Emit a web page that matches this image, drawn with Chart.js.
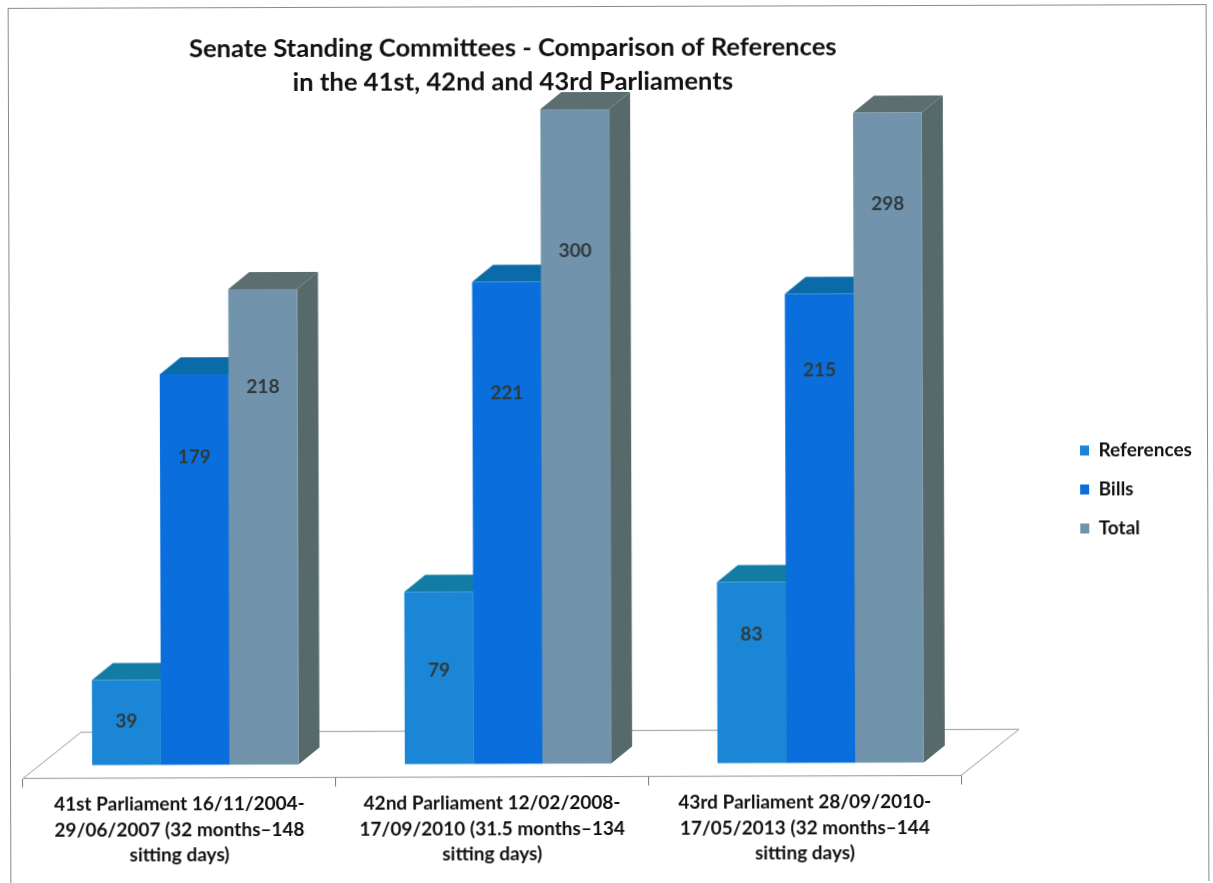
<!DOCTYPE html>
<html><head><meta charset="utf-8">
<style>html,body{margin:0;padding:0;background:#fff;overflow:hidden}
#wrap{width:1213px;height:883px;transform:rotate(-0.18deg)}canvas{display:block}</style>
<script src="https://cdn.jsdelivr.net/npm/chart.js@4"></script></head>
<body><div id="wrap"><canvas id="c" width="1213" height="883"></canvas></div>
<script>
const categories = [
  ["41st Parliament 16/11/2004-","29/06/2007 (32 months–148","sitting days)"],
  ["42nd Parliament 12/02/2008-","17/09/2010 (31.5 months–134","sitting days)"],
  ["43rd Parliament 28/09/2010-","17/05/2013 (32 months–144","sitting days)"]
];
const references = [39, 79, 83];
const bills = [179, 221, 215];
const total = [218, 300, 298];
const titleLines = ["Senate Standing Committees - Comparison of References","in the 41st, 42nd and 43rd Parliaments"];
// height (in axis units) at which each data label sits in the original
const referencesLabelAt = [20, 43, 59];
const billsLabelAt = [141, 170, 180];
const totalLabelAt = [173, 235, 256];

const FONT = 'Lato, Carlito, sans-serif';
const SHIFT_X = 16, DEPTH_X = 21, DEPTH_Y = 17, FLOOR_X = 58, FLOOR_Y = 46;
const faces = [
  {top:'#137CA5', side:'#10688C'},
  {top:'#0B6BA8', side:'#0A5A94'},
  {top:'#5C6E70', side:'#56696B'}
];
const labelAt = [referencesLabelAt, billsLabelAt, totalLabelAt];

function poly(ctx, pts, fill, stroke){
  ctx.beginPath(); pts.forEach((p,i)=> i?ctx.lineTo(p[0],p[1]):ctx.moveTo(p[0],p[1])); ctx.closePath();
  if(fill){ctx.fillStyle=fill;ctx.fill();}
  if(stroke){ctx.strokeStyle=stroke;ctx.lineWidth=1;ctx.stroke();}
}

const bars3d = {
  id:'bars3d',
  afterLayout(chart){
    const t = chart.titleBlock, l = chart.legend;
    const dx = 514 - (t.left + t.right)/2;
    t.left += dx; t.right += dx;
    const w = l.width;
    l.left = 1060; l.right = l.left + w;
    const dy = 491 - (l.top + l.bottom)/2;
    l.top += dy; l.bottom += dy;
  },
  beforeDraw(chart){
    const c = chart.ctx;
    c.save(); c.fillStyle='#fff'; c.fillRect(0,0,chart.width,chart.height);
    c.strokeStyle='#8a8a8a'; c.lineWidth=1; c.strokeRect(9.5,6.5,1198,890);
    c.restore();
  },
  beforeDatasetsDraw(chart){
    const c = chart.ctx, a = chart.chartArea;
    c.save();
    poly(c,[[a.left,a.bottom],[a.left+FLOOR_X,a.bottom-FLOOR_Y],[a.right+FLOOR_X,a.bottom-FLOOR_Y],[a.right,a.bottom]],'#fff','#9a9a9a');
    c.translate(SHIFT_X,0);
    chart.data.datasets.forEach((ds,i)=>{
      chart.getDatasetMeta(i).data.forEach(b=>{
        const l=b.x-b.width/2,r=b.x+b.width/2,t=b.y,bt=b.base;
        poly(c,[[r,t],[r+DEPTH_X,t-DEPTH_Y],[r+DEPTH_X,bt-DEPTH_Y],[r,bt]],faces[i].side);
        poly(c,[[l,t],[l+DEPTH_X,t-DEPTH_Y],[r+DEPTH_X,t-DEPTH_Y],[r,t]],faces[i].top);
      });
    });
    c.restore();
  },
  beforeDatasetDraw(chart){ chart.ctx.save(); chart.ctx.translate(SHIFT_X,0); },
  afterDatasetDraw(chart){ chart.ctx.restore(); },
  afterDatasetsDraw(chart){
    const c = chart.ctx, y = chart.scales.y;
    c.save(); c.translate(SHIFT_X,0);
    c.font = 'bold 19px '+FONT; c.fillStyle='#2f3a3c'; c.textAlign='center'; c.textBaseline='middle';
    chart.data.datasets.forEach((ds,i)=>{
      chart.getDatasetMeta(i).data.forEach((b,j)=>{
        c.fillText(String(ds.data[j]), b.x, y.getPixelForValue(labelAt[i][j]));
      });
    });
    c.restore();
  }
};

new Chart(document.getElementById('c'),{
  type:'bar',
  plugins:[bars3d],
  data:{labels:categories,datasets:[
    {label:'References',data:references,backgroundColor:'#1C86D6'},
    {label:'Bills',data:bills,backgroundColor:'#0A6FDC'},
    {label:'Total',data:total,backgroundColor:'#7193AC'}
  ]},
  options:{
    responsive:false,animation:false,
    layout:{padding:{left:22,top:0,right:0,bottom:11}},
    datasets:{bar:{barPercentage:1,categoryPercentage:0.66,borderWidth:0}},
    plugins:{
      title:{display:true,text:titleLines,color:'#111',font:{family:FONT,size:25.6,weight:'bold',lineHeight:1.33},padding:{top:31,bottom:10}},
      legend:{position:'right',labels:{color:'#111',font:{family:FONT,size:19,weight:'bold'},boxWidth:9,boxHeight:10,padding:20}},
      tooltip:{enabled:false}
    },
    scales:{
      x:{
        grid:{display:true,drawOnChartArea:false,drawTicks:true,tickLength:9,color:'#777',offset:true},
        border:{display:true,color:'#999'},
        ticks:{color:'#111',maxRotation:0,autoSkip:false,padding:5,font:{family:FONT,size:19,weight:'bold',lineHeight:1.34}}
      },
      y:{display:false,min:-6,max:300},
      gap:{position:'right',display:true,grid:{display:false},border:{display:false},ticks:{display:false},
        afterFit(s){ s.width = 1213-960-s.chart.legend.width; }}
    }
  }
});
</script></body></html>
